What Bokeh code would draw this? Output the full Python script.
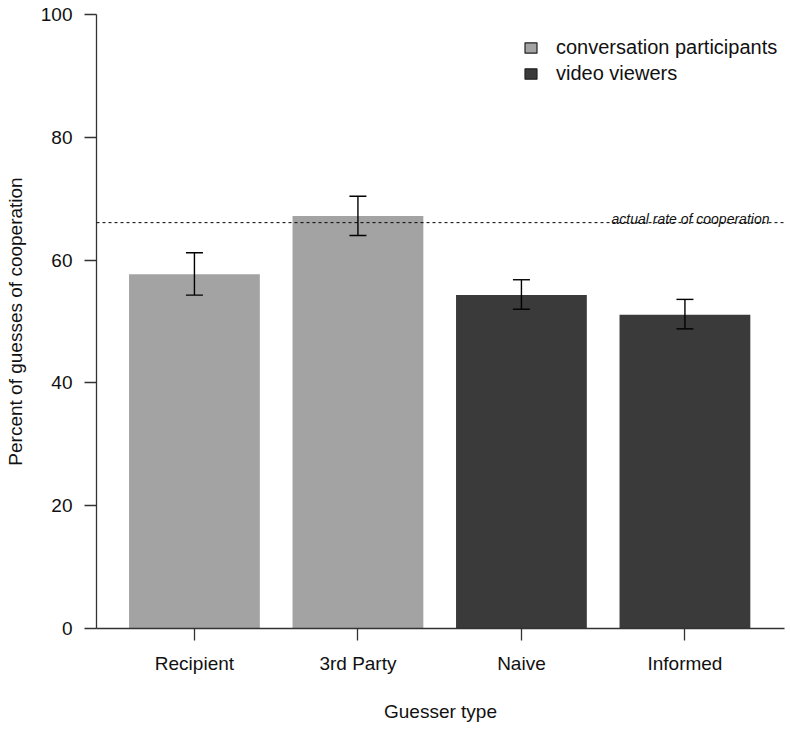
from bokeh.plotting import figure
from bokeh.models import (ColumnDataSource, Range1d, FixedTicker, Whisker, TeeHead,
                          Span, Label, Legend, LegendItem)
from bokeh.embed import file_html
from bokeh.resources import INLINE

# ---- data ----
categories = ["Recipient", "3rd Party", "Naive", "Informed"]
groups = ["conversation participants", "conversation participants", "video viewers", "video viewers"]
percent = [57.7, 67.2, 54.3, 51.1]
err_upper = [61.2, 70.4, 56.8, 53.6]
err_lower = [54.3, 64.0, 52.0, 48.8]
actual_rate = 66.1
y_ticks = [0, 20, 40, 60, 80, 100]
legend_labels = ["conversation participants", "video viewers"]
group_colors = {"conversation participants": "#a3a3a3", "video viewers": "#3a3a3a"}

FONT = "Liberation Sans"
xs = list(range(len(categories)))

src = ColumnDataSource(dict(
    x=xs, top=percent, upper=err_upper, lower=err_lower,
    color=[group_colors[g] for g in groups], group=groups,
))

p = figure(width=790, height=729, output_backend="svg", toolbar_location=None,
           x_range=Range1d(-0.599, 3.609), y_range=Range1d(0, 100),
           min_border_left=96, min_border_right=6, min_border_top=14, min_border_bottom=101)
p.outline_line_color = None
p.xgrid.visible = False
p.ygrid.visible = False
p.background_fill_color = "white"
p.border_fill_color = "white"

p.vbar(x="x", top="top", bottom=0, width=0.8, fill_color="color", line_color=None, source=src)

head_u = TeeHead(size=17, line_width=1.4, line_color="black")
head_l = TeeHead(size=17, line_width=1.4, line_color="black")
p.add_layout(Whisker(base="x", upper="upper", lower="lower", source=src,
                     upper_head=head_u, lower_head=head_l, level="overlay",
                     line_width=1.4, line_color="black"))

p.add_layout(Span(location=actual_rate, dimension="width", line_color="black",
                  line_width=1, line_dash="3 3"))
p.add_layout(Label(x=xs[-1] + 0.517, y=actual_rate, text="actual rate of cooperation",
                   text_font=FONT, text_font_size="14px", text_font_style="italic",
                   text_align="right", text_baseline="alphabetic", y_offset=4,
                   text_color="#111111"))

# legend proxies (one point each, outside the visible x range) so swatches carry an outline
items = []
for lab in legend_labels:
    r = p.vbar(x=[xs[0] - 10], top=[0], width=0.8, fill_color=group_colors[lab],
               line_color="#222222", line_width=1.2)
    items.append(LegendItem(label=lab, renderers=[r]))
leg = Legend(items=items, location=(427, 543), orientation="vertical",
             glyph_width=15, glyph_height=13, label_standoff=18, spacing=3,
             padding=0, margin=0, border_line_color=None, background_fill_alpha=0,
             label_text_font=FONT, label_text_font_size="20px", label_text_color="#111111")
p.add_layout(leg)

# axes
for ax in (p.xaxis[0], p.yaxis[0]):
    ax.axis_line_color = "#333333"
    ax.axis_line_width = 1.3
    ax.major_tick_line_color = "#333333"
    ax.major_tick_line_width = 1.3
    ax.major_tick_out = 12
    ax.major_tick_in = 0
    ax.minor_tick_line_color = None
    ax.major_label_text_font = FONT
    ax.major_label_text_font_size = "19px"
    ax.major_label_text_color = "#111111"
    ax.axis_label_text_font = FONT
    ax.axis_label_text_font_size = "19px"
    ax.axis_label_text_font_style = "normal"
    ax.axis_label_text_color = "#111111"

p.xaxis.ticker = FixedTicker(ticks=xs)
p.xaxis.major_label_overrides = {i: c for i, c in zip(xs, categories)}
p.xaxis.axis_label = "Guesser type"
p.xaxis.major_label_standoff = 12
p.xaxis.axis_label_standoff = 24

p.yaxis.ticker = FixedTicker(ticks=y_ticks)
p.yaxis.axis_label = "Percent of guesses of cooperation"
p.yaxis.major_label_standoff = 12
p.yaxis.axis_label_standoff = 12

open("out.html", "w").write(file_html(p, INLINE))
